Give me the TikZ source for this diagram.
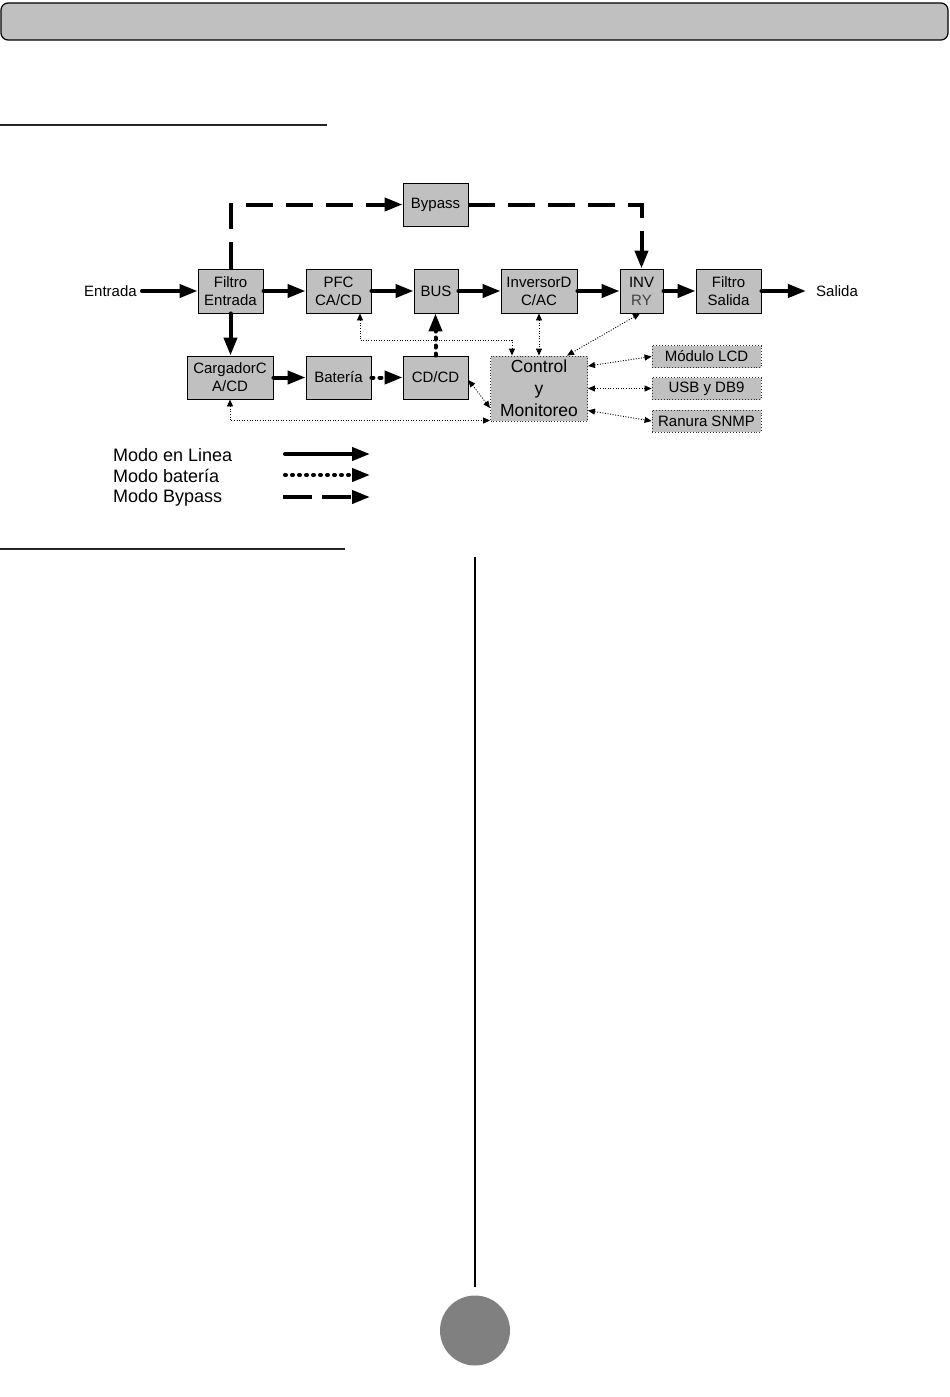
\documentclass[tikz,border=0pt]{standalone}
\usepackage{fontspec}
\setmainfont{Liberation Sans}
\usetikzlibrary{arrows.meta}
\definecolor{boxgray}{HTML}{C0C0C0}
\definecolor{circgray}{HTML}{808080}
\tikzset{
  x=1pt, y=-1pt,
  blk/.style={draw, line width=0.9pt, fill=boxgray, inner sep=0pt, align=center,
    font=\fontsize{15}{18}\selectfont},
  dblk/.style={draw=black!80, dotted, line width=0.9pt, fill=boxgray, inner sep=0pt, align=center,
    font=\fontsize{15}{18}\selectfont},
  lbl/.style={inner sep=0pt, font=\fontsize{15}{18}\selectfont},
  leg/.style={inner sep=0pt, anchor=west, font=\fontsize{18}{21}\selectfont},
  bigtip/.style={-{Triangle[length=18pt,width=13pt]}},
  online/.style={line width=4pt, line cap=round, bigtip},
  batline/.style={line width=4pt, line cap=round, dash pattern=on 2pt off 6pt, bigtip},
  bypline/.style={line width=4pt, dash pattern=on 27pt off 13pt, bigtip},
  sig/.style={line width=0.9pt, dash pattern=on 1pt off 1.6pt,
    {Triangle[length=7pt,width=6pt]}-{Triangle[length=7pt,width=6pt]}},
}
\begin{document}
\begin{tikzpicture}
\useasboundingbox (0,0) rectangle (950,1397);
% header bar and rules
\draw[fill=boxgray, rounded corners=7pt, line width=1.2pt] (1,3) rectangle (948,40);
\draw[line width=2pt, black!85] (0,125) -- (327,125);
\draw[line width=2pt, black!85] (0,549) -- (345,549);
\draw[line width=1.5pt] (475,557) -- (475,1287);
\fill[circgray] (475,1330.5) circle (35);

% blocks
\node[blk, minimum width=65pt, minimum height=43pt] (byp) at (435.5,204.5) {Bypass};
\node[blk, minimum width=65pt, minimum height=44pt] (fe) at (230.5,291) {Filtro\\Entrada};
\node[blk, minimum width=65pt, minimum height=44pt] (pfc) at (338.5,291) {PFC\\CA/CD};
\node[blk, minimum width=44pt, minimum height=44pt] (bus) at (436,291) {BUS};
\node[blk, minimum width=76pt, minimum height=44pt] (inv) at (539,291) {InversorD\\C/AC};
\node[blk, minimum width=43pt, minimum height=44pt] (invry) at (641.5,291) {INV\\\textcolor{black!75}{RY}};
\node[blk, minimum width=65pt, minimum height=44pt] (fs) at (728.5,291) {Filtro\\Salida};
\node[blk, minimum width=86pt, minimum height=43pt] (carg) at (230,377.5) {CargadorC\\A/CD};
\node[blk, minimum width=65pt, minimum height=43pt] (bat) at (338.5,377.5) {Batería};
\node[blk, minimum width=65pt, minimum height=43pt] (cdcd) at (435.5,377.5) {CD/CD};
\node[dblk, minimum width=97pt, minimum height=65pt, font=\fontsize{17.5}{22}\selectfont] (ctrl) at (539,388.5) {Control\\y\\Monitoreo};
\node[dblk, minimum width=109pt, minimum height=22pt] (lcd) at (706.5,356.5) {Módulo LCD};
\node[dblk, minimum width=109pt, minimum height=22pt] (usb) at (706.5,388.5) {USB y DB9};
\node[dblk, minimum width=109pt, minimum height=22pt] (snmp) at (706.5,421) {Ranura SNMP};
\node[lbl, inner xsep=5pt] (ent) at (110.5,291) {Entrada};
\node[lbl, inner xsep=10pt] (sal) at (837,291) {Salida};

% power flow
\draw[online] (ent.east) -- (fe.west);
\draw[online] (fe.east) -- (pfc.west);
\draw[online] (pfc.east) -- (bus.west);
\draw[online] (bus.east) -- (inv.west);
\draw[online] (inv.east) -- (invry.west);
\draw[online] (invry.east) -- (fs.west);
\draw[online] (fs.east) -- (sal.west);
\draw[online] (fe.south) -- (fe.south |- carg.north);
\draw[online] (carg.east) -- (bat.west);
\draw[batline] (bat.east) -- (cdcd.west);
\draw[batline] (cdcd.north) -- (cdcd.north |- bus.south);
\draw[bypline] (fe.north) |- (byp.west);
\draw[bypline] (byp.east) -| (invry.north);

% control signals
\draw[sig] ([xshift=21.5pt]pfc.south) -- ++(0,27) -| ([xshift=-27pt]ctrl.north);
\draw[sig] (inv.south) -- (inv.south |- ctrl.north);
\draw[sig] ([xshift=-1.5pt]invry.south) -- ([xshift=28pt]ctrl.north);
\draw[sig] ([yshift=-2.5pt]cdcd.east) -- ([yshift=-19.5pt]ctrl.west);
\draw[sig] (carg.south) |- ([yshift=-32pt]ctrl.west);
\draw[sig] ([yshift=22.5pt]ctrl.east) -- (lcd.west);
\draw[sig] (ctrl.east) -- (usb.west);
\draw[sig] ([yshift=-22pt]ctrl.east) -- (snmp.west);

% legend
\node[leg] (m1) at (113,455) {Modo en Linea};
\node[leg] (m2) at (113,476) {Modo batería};
\node[leg] (m3) at (113,498) {Modo Bypass};
\coordinate (l1a) at (285,454); \coordinate (l1b) at (370,454);
\coordinate (l2a) at (285,475); \coordinate (l2b) at (370,475);
\coordinate (l3a) at (283,497); \coordinate (l3b) at (370,497);
\draw[online] (l1a) -- (l1b);
\draw[batline, dash pattern=on 1pt off 6pt] (l2a) -- (l2b);
\draw[bypline, dash pattern=on 29pt off 10pt] (l3a) -- (l3b);
\end{tikzpicture}
\end{document}
